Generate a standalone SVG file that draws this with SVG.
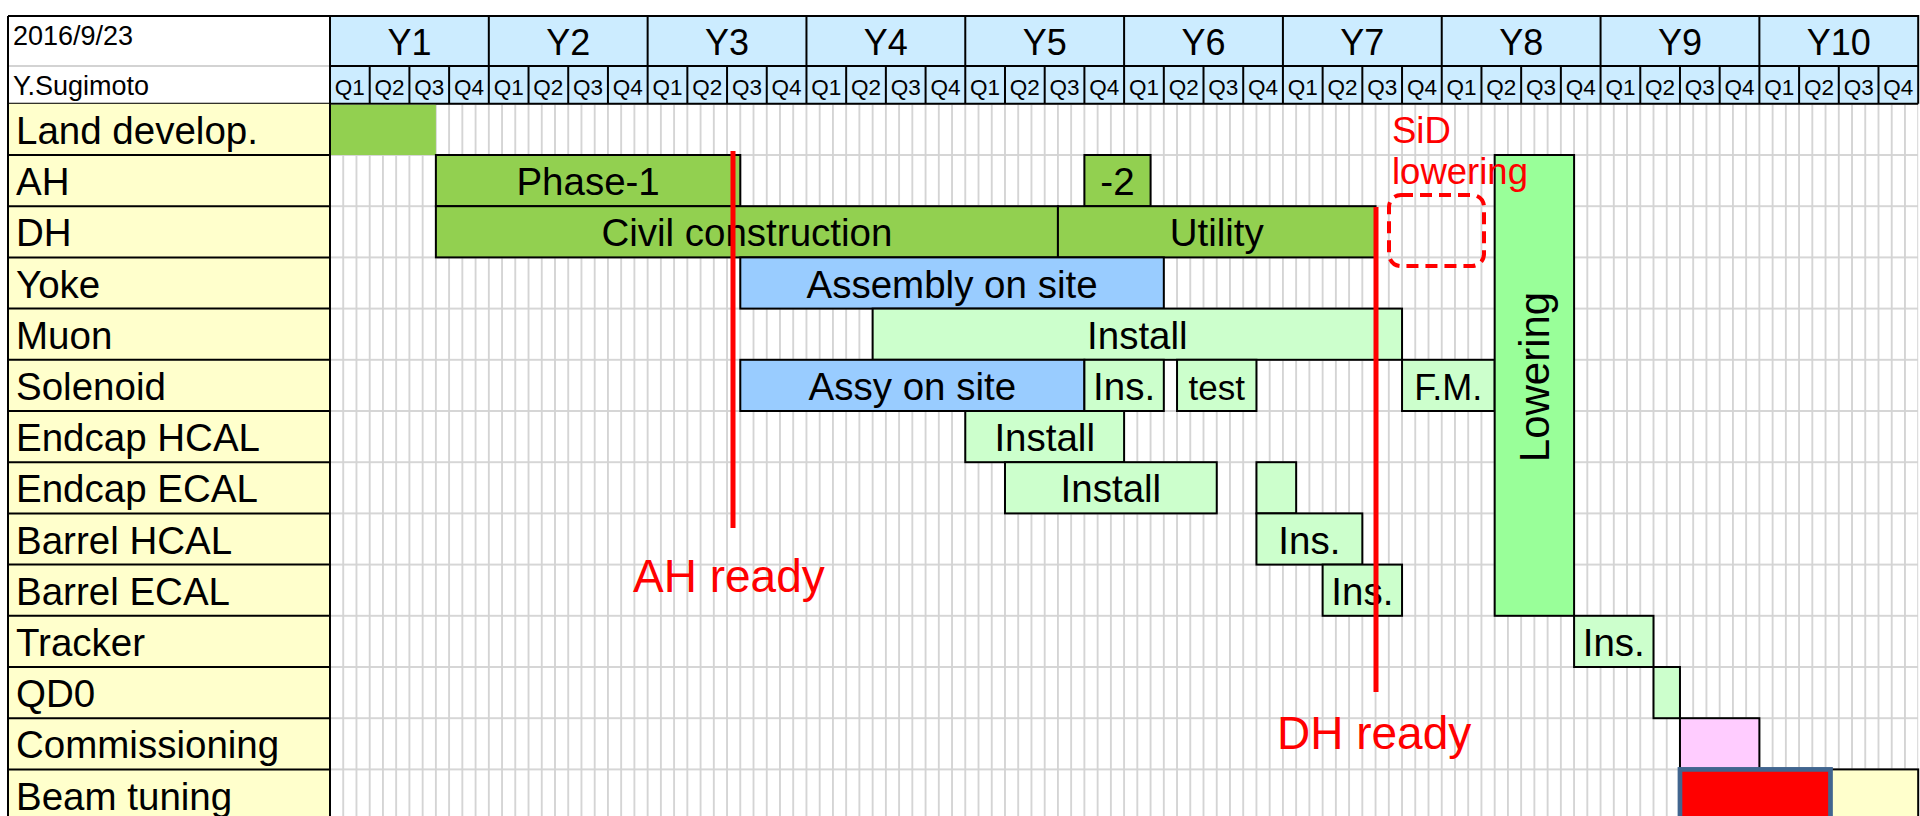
<svg xmlns="http://www.w3.org/2000/svg" width="1920" height="816" viewBox="0 0 1920 816">
<style>
text{font-family:"Liberation Sans",Arial,sans-serif;fill:#000}
.lbl{font-size:38.5px}
.bt{font-size:38.5px;text-anchor:middle}
.yr{font-size:36px;text-anchor:middle}
.q{font-size:22.5px;text-anchor:middle}
.hd{font-size:27px}
.red{fill:#FF0000}
.bar{stroke:#000;stroke-width:2}
.g1{fill:#92D050}
.bl{fill:#99CCFF}
.lg{fill:#CCFFCC}
.lw{fill:#99FF99}
.pk{fill:#FFCCFF}
.blk{stroke:#000;stroke-width:2;fill:none}
.ms{stroke:#FF0000;stroke-width:5}
</style>
<defs>
<pattern id="grid" patternUnits="userSpaceOnUse" x="323.3825" y="78.2" width="13.235" height="51.2">
<rect x="5.7" y="0" width="1.8" height="51.2" fill="#D3D3D3"/>
<rect x="0" y="24.7" width="13.235" height="1.8" fill="#D3D3D3"/>
</pattern>
</defs>
<rect x="0" y="0" width="1920" height="816" fill="#fff"/>
<g id="body-grid">
<rect x="330" y="103.8" width="1588.2" height="720" fill="url(#grid)"/>
</g>
<g id="header">
<rect x="8" y="16" width="322" height="87.8" fill="#fff"/>
<line x1="8" y1="66" x2="330" y2="66" stroke="#D3D3D3" stroke-width="2"/>
<rect x="330" y="16" width="1588.2" height="87.8" fill="#CCECFF"/>
<text class="hd" x="13" y="45">2016/9/23</text>
<text class="hd" x="13" y="95">Y.Sugimoto</text>
<path class="blk" d="M8 16H1918.2V103.8M330 66H1918.2M8 103.8H1918.2M330 16V103.8M488.82 16V103.8M647.64 16V103.8M806.46 16V103.8M965.28 16V103.8M1124.1 16V103.8M1282.92 16V103.8M1441.74 16V103.8M1600.56 16V103.8M1759.38 16V103.8"/>
<path class="blk" d="M369.71 66V103.8M409.41 66V103.8M449.12 66V103.8M528.53 66V103.8M568.23 66V103.8M607.94 66V103.8M687.35 66V103.8M727.05 66V103.8M766.76 66V103.8M846.17 66V103.8M885.87 66V103.8M925.58 66V103.8M1004.99 66V103.8M1044.69 66V103.8M1084.4 66V103.8M1163.81 66V103.8M1203.51 66V103.8M1243.22 66V103.8M1322.63 66V103.8M1362.33 66V103.8M1402.04 66V103.8M1481.45 66V103.8M1521.15 66V103.8M1560.86 66V103.8M1640.27 66V103.8M1679.97 66V103.8M1719.68 66V103.8M1799.09 66V103.8M1838.79 66V103.8M1878.5 66V103.8"/>
<text class="yr" x="409.41" y="55">Y1</text>
<text class="yr" x="568.23" y="55">Y2</text>
<text class="yr" x="727.05" y="55">Y3</text>
<text class="yr" x="885.87" y="55">Y4</text>
<text class="yr" x="1044.69" y="55">Y5</text>
<text class="yr" x="1203.51" y="55">Y6</text>
<text class="yr" x="1362.33" y="55">Y7</text>
<text class="yr" x="1521.15" y="55">Y8</text>
<text class="yr" x="1679.97" y="55">Y9</text>
<text class="yr" x="1838.79" y="55">Y10</text>
<g class="qs">
<text class="q" x="349.85" y="95">Q1</text><text class="q" x="389.56" y="95">Q2</text><text class="q" x="429.26" y="95">Q3</text><text class="q" x="468.97" y="95">Q4</text>
<text class="q" x="508.67" y="95">Q1</text><text class="q" x="548.38" y="95">Q2</text><text class="q" x="588.08" y="95">Q3</text><text class="q" x="627.79" y="95">Q4</text>
<text class="q" x="667.49" y="95">Q1</text><text class="q" x="707.2" y="95">Q2</text><text class="q" x="746.9" y="95">Q3</text><text class="q" x="786.61" y="95">Q4</text>
<text class="q" x="826.31" y="95">Q1</text><text class="q" x="866.02" y="95">Q2</text><text class="q" x="905.72" y="95">Q3</text><text class="q" x="945.43" y="95">Q4</text>
<text class="q" x="985.13" y="95">Q1</text><text class="q" x="1024.84" y="95">Q2</text><text class="q" x="1064.54" y="95">Q3</text><text class="q" x="1104.25" y="95">Q4</text>
<text class="q" x="1143.95" y="95">Q1</text><text class="q" x="1183.66" y="95">Q2</text><text class="q" x="1223.36" y="95">Q3</text><text class="q" x="1263.07" y="95">Q4</text>
<text class="q" x="1302.77" y="95">Q1</text><text class="q" x="1342.48" y="95">Q2</text><text class="q" x="1382.18" y="95">Q3</text><text class="q" x="1421.89" y="95">Q4</text>
<text class="q" x="1461.59" y="95">Q1</text><text class="q" x="1501.3" y="95">Q2</text><text class="q" x="1541" y="95">Q3</text><text class="q" x="1580.71" y="95">Q4</text>
<text class="q" x="1620.41" y="95">Q1</text><text class="q" x="1660.12" y="95">Q2</text><text class="q" x="1699.82" y="95">Q3</text><text class="q" x="1739.53" y="95">Q4</text>
<text class="q" x="1779.23" y="95">Q1</text><text class="q" x="1818.94" y="95">Q2</text><text class="q" x="1858.64" y="95">Q3</text><text class="q" x="1898.35" y="95">Q4</text>
</g>
</g>
<g id="labels">
<rect x="8" y="103.8" width="322" height="720" fill="#FFFFCC"/>
<path class="blk" d="M8 16V816M330 16V816M8 155H330M8 206.2H330M8 257.4H330M8 308.6H330M8 359.8H330M8 411H330M8 462.2H330M8 513.4H330M8 564.6H330M8 615.8H330M8 667H330M8 718.2H330M8 769.4H330"/>
<text class="lbl" x="16" y="144">Land develop.</text>
<text class="lbl" x="16" y="195.2">AH</text>
<text class="lbl" x="16" y="246.4">DH</text>
<text class="lbl" x="16" y="297.6">Yoke</text>
<text class="lbl" x="16" y="348.8">Muon</text>
<text class="lbl" x="16" y="400">Solenoid</text>
<text class="lbl" x="16" y="451.2">Endcap HCAL</text>
<text class="lbl" x="16" y="502.4">Endcap ECAL</text>
<text class="lbl" x="16" y="553.6">Barrel HCAL</text>
<text class="lbl" x="16" y="604.8">Barrel ECAL</text>
<text class="lbl" x="16" y="656">Tracker</text>
<text class="lbl" x="16" y="707.2">QD0</text>
<text class="lbl" x="16" y="758.4">Commissioning</text>
<text class="lbl" x="16" y="809.6">Beam tuning</text>
</g>
<g id="land"><rect class="g1" x="331" y="104.8" width="104.88" height="50.2"/></g>
<g id="ah-phase1"><rect class="bar g1" x="435.88" y="155" width="304.41" height="51.2"/><text class="bt" x="588.08" y="195.2">Phase-1</text></g>
<g id="ah-phase2"><rect class="bar g1" x="1084.4" y="155" width="66.17" height="51.2"/><text class="bt" x="1117.49" y="195.2">-2</text></g>
<g id="dh-civil"><rect class="bar g1" x="435.88" y="206.2" width="622.05" height="51.2"/><text class="bt" x="746.9" y="246.4">Civil construction</text></g>
<g id="dh-utility"><rect class="bar g1" x="1057.93" y="206.2" width="317.64" height="51.2"/><text class="bt" x="1216.75" y="246.4">Utility</text></g>
<g id="yoke-assembly"><rect class="bar bl" x="740.29" y="257.4" width="423.52" height="51.2"/><text class="bt" x="952.05" y="297.6">Assembly on site</text></g>
<g id="muon-install"><rect class="bar lg" x="872.64" y="308.6" width="529.4" height="51.2"/><text class="bt" x="1137.34" y="348.8">Install</text></g>
<g id="sol-assy"><rect class="bar bl" x="740.29" y="359.8" width="344.11" height="51.2"/><text class="bt" x="912.35" y="400">Assy on site</text></g>
<g id="sol-ins"><rect class="bar lg" x="1084.4" y="359.8" width="79.41" height="51.2"/><text class="bt" x="1124.1" y="400">Ins.</text></g>
<g id="sol-test"><rect class="bar lg" x="1177.04" y="359.8" width="79.41" height="51.2"/><text class="bt" x="1216.75" y="399.5" style="font-size:35px">test</text></g>
<g id="sol-fm"><rect class="bar lg" x="1402.04" y="359.8" width="92.64" height="51.2"/><text class="bt" x="1448.36" y="399.5" style="font-size:36px">F.M.</text></g>
<g id="ehcal-install"><rect class="bar lg" x="965.28" y="411" width="158.82" height="51.2"/><text class="bt" x="1044.69" y="451.2">Install</text></g>
<g id="eecal-install"><rect class="bar lg" x="1004.99" y="462.2" width="211.76" height="51.2"/><text class="bt" x="1110.87" y="502.4">Install</text></g>
<g id="eecal-2"><rect class="bar lg" x="1256.45" y="462.2" width="39.71" height="51.2"/></g>
<g id="bhcal-ins"><rect class="bar lg" x="1256.45" y="513.4" width="105.88" height="51.2"/><text class="bt" x="1309.39" y="553.6">Ins.</text></g>
<g id="becal-ins"><rect class="bar lg" x="1322.63" y="564.6" width="79.41" height="51.2"/><text class="bt" x="1362.33" y="604.8">Ins.</text></g>
<g id="lowering"><rect class="bar lw" x="1494.68" y="155" width="79.41" height="460.8"/><text class="bt" transform="translate(1549 377) rotate(-90)" x="0" y="0" style="font-size:42px">Lowering</text></g>
<g id="tracker-ins"><rect class="bar lg" x="1574.09" y="615.8" width="79.41" height="51.2"/><text class="bt" x="1613.8" y="656">Ins.</text></g>
<g id="qd0"><rect class="bar lg" x="1653.5" y="667" width="26.47" height="51.2"/></g>
<g id="commissioning"><rect class="bar pk" x="1679.97" y="718.2" width="79.41" height="51.2"/></g>
<g id="beam-after"><rect x="1830.5" y="769.4" width="87.7" height="60" fill="#FFFFCC" stroke="#000" stroke-width="2"/></g>
<g id="beam-tuning"><rect x="1679.97" y="769.4" width="150.53" height="60" fill="#FF0000" stroke="#41658F" stroke-width="4.7"/></g>
<g id="connectors">
<line class="ms" x1="733" y1="151" x2="733" y2="528"/>
<line class="ms" x1="1376" y1="207" x2="1376" y2="692"/>
</g>
<g id="ah-ready"><text class="red" x="633" y="591.5" style="font-size:46px">AH ready</text></g>
<g id="dh-ready"><text class="red" x="1277" y="749" style="font-size:46px">DH ready</text></g>
<g id="sid-lowering">
<text class="red" x="1392" y="143" style="font-size:36.5px">SiD</text>
<text class="red" x="1392" y="184" style="font-size:36.5px">lowering</text>
<rect x="1389" y="195" width="95" height="71" rx="12" fill="none" stroke="#FF0000" stroke-width="4" stroke-dasharray="12 7"/>
</g>
</svg>
